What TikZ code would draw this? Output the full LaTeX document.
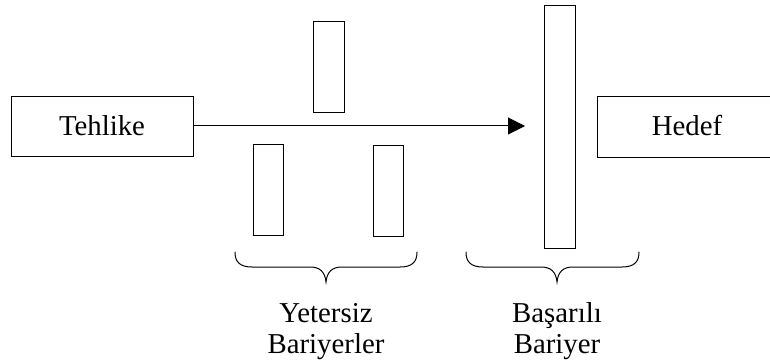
\documentclass[tikz,border=0pt]{standalone}
\usepackage{fontspec}
\setmainfont{Liberation Serif}
\newfontfamily\captionfont{Liberation Serif}
\usetikzlibrary{arrows.meta}
\begin{document}
\begin{tikzpicture}[x=1pt,y=-1pt,line width=1pt,
  box/.style={draw,fill=white,inner sep=0pt,anchor=north west},
  captext/.style={inner sep=0pt,anchor=base,font=\captionfont\fontsize{28.8}{31}\selectfont},
  bracepath/.style={line width=1pt,line cap=round}]
\useasboundingbox (0,0) rectangle (770,363);
% start and end boxes
\node[box,minimum width=182pt,minimum height=60pt] (haz) at (11,96) {};
\node[captext] (hazt) at (102,136) {Tehlike};
\node[box,minimum width=190pt,minimum height=61pt] (tgt) at (597,96) {};
\node[captext] (tgtt) at (687,136) {Hedef};
% barriers
\node[box,minimum width=31pt,minimum height=91pt] (b1) at (313,21) {};
\node[box,minimum width=30pt,minimum height=91pt] (b2) at (253,144) {};
\node[box,minimum width=30pt,minimum height=91pt] (b3) at (373,145) {};
\node[box,minimum width=31pt,minimum height=243pt] (b4) at (544,5) {};
% threat path
\coordinate (tip) at (525,126);
\draw[-{Triangle[length=17pt,width=17pt]}] (haz.east |- tip) -- (tip);
% braces
\draw[bracepath] (235,252) .. controls (235,262) and (240,267) .. (252,267)
  -- (310,267) .. controls (320,267) and (325,272) .. (326,282)
  .. controls (327,272) and (332,267) .. (342,267)
  -- (400,267) .. controls (412,267) and (417,262) .. (417,252);
\draw[bracepath] (466,252) .. controls (466,262) and (471,267) .. (483,267)
  -- (541,267) .. controls (551,267) and (556,272) .. (557,282)
  .. controls (558,272) and (563,267) .. (573,267)
  -- (622,267) .. controls (634,267) and (639,262) .. (639,252);
% captions
\node[captext] (capA1) at (326,322) {Yetersiz};
\node[captext] (capA2) at (326,353) {Bariyerler};
\node[captext] (capB1) at (557,322) {Başarılı};
\node[captext] (capB2) at (557,353) {Bariyer};
\end{tikzpicture}
\end{document}
